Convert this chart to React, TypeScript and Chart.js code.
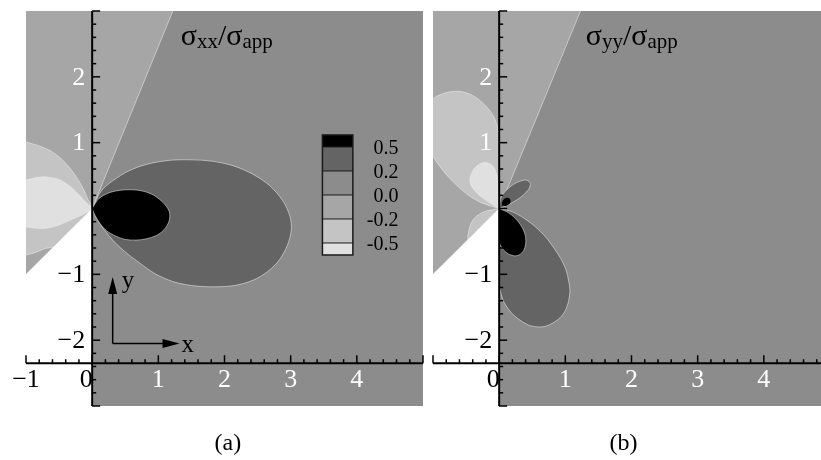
import React, { useEffect, useRef } from "react";
import { Chart, registerables } from "chart.js";

Chart.register(...registerables);

type Pt = [number, number];

// contour levels (key) and their grey shades, darkest = highest
const levelLabels = ["0.5", "0.2", "0.0", "-0.2", "-0.5"];
const shades = ["#000000", "#646464", "#8c8c8c", "#a6a6a6", "#c4c4c4", "#e0e0e0"];

// axis tick labels
const xTicksA = [-1, 0, 1, 2, 3, 4];
const xTicksB = [0, 1, 2, 3, 4];
const yTicks = [2, 1, -1, -2];

// common regions: whole field and the notch (no material)
const frame: Pt[] = [[-1.1, -3.1], [5.1, -3.1], [5.1, 3.1], [-1.1, 3.1]];
const notch: Pt[] = [[-1.1, -1.1], [0, 0], [0, -3.1], [-1.1, -3.1]];

// ---- panel (a): sigma_xx / sigma_app ----
const sxxNegative: Pt[] = [[-1.1, 3.1], [1.26, 3.1], [0, 0], [-1.1, -1.1]];
const sxxMinus02: Pt[] = [
  [-1.1, 1.04], [-1, 1.01], [-0.8, 0.95], [-0.62, 0.87], [-0.46, 0.75], [-0.34, 0.62],
  [-0.22, 0.45], [-0.14, 0.31], [-0.06, 0.13], [0, 0], [-0.2, -0.2], [-0.4, -0.4],
  [-0.58, -0.58], [-0.72, -0.61], [-0.86, -0.67], [-1.1, -0.73],
];
const sxxMinus05: Pt[] = [
  [-1.1, 0.42], [-1, 0.43], [-0.85, 0.47], [-0.69, 0.48], [-0.5, 0.44], [-0.34, 0.34],
  [-0.2, 0.21], [-0.1, 0.1], [0, 0], [-0.1, -0.07], [-0.22, -0.13], [-0.34, -0.18],
  [-0.5, -0.25], [-0.69, -0.3], [-0.85, -0.3], [-1, -0.28], [-1.1, -0.27],
];
const sxxPlus02: Pt[] = [
  [0, 0], [0.14, 0.27], [0.31, 0.42], [0.55, 0.57], [0.82, 0.67], [1.15, 0.73], [1.47, 0.74],
  [1.8, 0.72], [2.13, 0.65], [2.43, 0.52], [2.68, 0.35], [2.88, 0.12], [2.99, -0.12],
  [3.01, -0.33], [2.95, -0.56], [2.83, -0.78], [2.65, -0.96], [2.43, -1.09], [2.15, -1.17],
  [1.82, -1.19], [1.5, -1.17], [1.22, -1.11], [0.95, -0.99], [0.72, -0.83], [0.5, -0.66],
  [0.31, -0.48], [0.11, -0.22], [0, 0],
];
const sxxPlus05: Pt[] = [
  [0, 0], [0.1, 0.15], [0.26, 0.24], [0.45, 0.28], [0.67, 0.28], [0.85, 0.24], [0.98, 0.17],
  [1.1, 0.06], [1.17, -0.06], [1.16, -0.2], [1.08, -0.33], [0.97, -0.41], [0.82, -0.46],
  [0.67, -0.48], [0.5, -0.47], [0.36, -0.42], [0.22, -0.34], [0.12, -0.23], [0.04, -0.1], [0, 0],
];

// ---- panel (b): sigma_yy / sigma_app ----
const syyNegative: Pt[] = [[-1.1, 3.1], [1.27, 3.1], [0, 0], [-1.1, -1.1]];
const syyMinus02Upper: Pt[] = [
  [0, 0], [-0.25, 0.08], [-0.42, 0.17], [-0.56, 0.28], [-0.72, 0.43], [-0.86, 0.59],
  [-1.0, 0.79], [-1.1, 1.0], [-1.1, 1.5], [-0.98, 1.68], [-0.8, 1.76], [-0.61, 1.78],
  [-0.45, 1.74], [-0.3, 1.65], [-0.16, 1.51], [-0.07, 1.37], [-0.02, 1.2], [0, 0.9], [0, 0.4], [0, 0],
];
const syyMinus02Lower: Pt[] = [
  [0, 0], [-0.2, -0.04], [-0.32, -0.1], [-0.4, -0.18], [-0.45, -0.3], [-0.47, -0.47],
  [-0.3, -0.3], [-0.15, -0.15], [0, 0],
];
const syyMinus05: Pt[] = [
  [0, 0], [-0.13, 0.08], [-0.26, 0.17], [-0.36, 0.26], [-0.43, 0.36], [-0.44, 0.46],
  [-0.4, 0.57], [-0.32, 0.66], [-0.23, 0.7], [-0.14, 0.68], [-0.08, 0.62], [-0.04, 0.53],
  [-0.02, 0.4], [-0.01, 0.2], [0, 0],
];
const syyPlus02Upper: Pt[] = [
  [0, 0], [0.03, 0.17], [0.11, 0.28], [0.22, 0.37], [0.33, 0.42], [0.42, 0.43], [0.47, 0.38],
  [0.45, 0.3], [0.35, 0.19], [0.2, 0.09], [0.08, 0.03], [0, 0],
];
const syyPlus05Upper: Pt[] = [
  [0.04, 0.04], [0.05, 0.11], [0.1, 0.16], [0.16, 0.15], [0.17, 0.09], [0.11, 0.04], [0.04, 0.04],
];
const syyPlus02Lower: Pt[] = [
  [0, 0], [0.2, -0.05], [0.38, -0.15], [0.55, -0.28], [0.7, -0.43], [0.82, -0.59],
  [0.93, -0.76], [1.01, -0.93], [1.05, -1.1], [1.07, -1.25], [1.05, -1.4], [1.0, -1.55],
  [0.92, -1.66], [0.81, -1.74], [0.7, -1.79], [0.6, -1.8], [0.47, -1.78], [0.35, -1.72],
  [0.23, -1.63], [0.14, -1.53], [0.07, -1.42], [0.03, -1.3], [0, -1.15], [0, -0.6], [0, 0],
];
const syyPlus05Lower: Pt[] = [
  [0, 0], [0.15, -0.07], [0.28, -0.19], [0.36, -0.31], [0.4, -0.43], [0.4, -0.54],
  [0.37, -0.64], [0.31, -0.7], [0.24, -0.72], [0.14, -0.69], [0.05, -0.61], [0, -0.5], [0, 0],
];

type Layer = { pts: Pt[]; color: string; edge: boolean; tension: number };

const layersA: Layer[] = [
  { pts: frame, color: shades[2], edge: false, tension: 0 },
  { pts: sxxNegative, color: shades[3], edge: true, tension: 0 },
  { pts: sxxMinus02, color: shades[4], edge: true, tension: 0.3 },
  { pts: sxxMinus05, color: shades[5], edge: true, tension: 0.3 },
  { pts: sxxPlus02, color: shades[1], edge: true, tension: 0.3 },
  { pts: sxxPlus05, color: shades[0], edge: true, tension: 0.3 },
  { pts: notch, color: "#ffffff", edge: false, tension: 0 },
];

const layersB: Layer[] = [
  { pts: frame, color: shades[2], edge: false, tension: 0 },
  { pts: syyNegative, color: shades[3], edge: true, tension: 0 },
  { pts: syyMinus02Upper, color: shades[4], edge: true, tension: 0.3 },
  { pts: syyMinus02Lower, color: shades[4], edge: true, tension: 0.3 },
  { pts: syyMinus05, color: shades[5], edge: true, tension: 0.3 },
  { pts: syyPlus02Upper, color: shades[1], edge: true, tension: 0.3 },
  { pts: syyPlus05Upper, color: shades[0], edge: false, tension: 0.3 },
  { pts: syyPlus02Lower, color: shades[1], edge: true, tension: 0.3 },
  { pts: syyPlus05Lower, color: shades[0], edge: true, tension: 0.3 },
  { pts: notch, color: "#ffffff", edge: false, tension: 0 },
];

const FONT = '"Liberation Serif", "Times New Roman", serif';

type PanelCfg = {
  layers: Layer[];
  xMax: number;
  xTicks: number[];
  xAxisAt: number;
  title: { t: string; sub: boolean }[];
  titleAt: Pt;
  label: string;
  labelX: number;
  showKey: boolean;
  showInset: boolean;
  width: number;
  padding: { left: number; right: number; top: number; bottom: number };
};

const panelA: PanelCfg = {
  layers: layersA,
  xMax: 5,
  xTicks: xTicksA,
  xAxisAt: -2.35,
  title: [
    { t: "σ", sub: false }, { t: "xx", sub: true }, { t: "/", sub: false },
    { t: "σ", sub: false }, { t: "app", sub: true },
  ],
  titleAt: [1.34, 2.48],
  label: "(a)",
  labelX: 2.05,
  showKey: true,
  showInset: true,
  width: 428,
  padding: { left: 26, right: 5, top: 11, bottom: 54 },
};

const panelB: PanelCfg = {
  layers: layersB,
  xMax: 4.864,
  xTicks: xTicksB,
  xAxisAt: -2.35,
  title: [
    { t: "σ", sub: false }, { t: "yy", sub: true }, { t: "/", sub: false },
    { t: "σ", sub: false }, { t: "app", sub: true },
  ],
  titleAt: [1.31, 2.48],
  label: "(b)",
  labelX: 1.88,
  showKey: false,
  showInset: false,
  width: 393,
  padding: { left: 5, right: 0, top: 11, bottom: 54 },
};

function makeOverlay(cfg: PanelCfg) {
  return {
    id: "overlay",
    afterDraw(chart: any) {
      const ctx: CanvasRenderingContext2D = chart.ctx;
      const xs = chart.scales.x;
      const ys = chart.scales.y;
      const px = (v: number) => xs.getPixelForValue(v);
      const py = (v: number) => ys.getPixelForValue(v);
      ctx.save();

      // y axis at x = 0
      const x0 = px(0);
      ctx.strokeStyle = "#000";
      ctx.lineWidth = 2;
      ctx.beginPath();
      ctx.moveTo(x0, py(3));
      ctx.lineTo(x0, py(-3));
      ctx.stroke();
      ctx.lineWidth = 1.5;
      for (let i = -15; i <= 15; i++) {
        const yy = py(i / 5);
        const len = i % 5 === 0 ? 8 : 4;
        ctx.beginPath();
        ctx.moveTo(x0, yy);
        ctx.lineTo(x0 + len, yy);
        ctx.stroke();
      }

      // x axis
      const ya = py(cfg.xAxisAt);
      ctx.lineWidth = 2;
      ctx.beginPath();
      ctx.moveTo(px(-1), ya);
      ctx.lineTo(px(cfg.xMax), ya);
      ctx.stroke();
      ctx.lineWidth = 1.5;
      for (let i = -5; i <= 25; i++) {
        const v = i / 5;
        if (v > cfg.xMax + 1e-6) break;
        const xx = px(v);
        const len = i % 5 === 0 ? 8 : 4;
        ctx.beginPath();
        ctx.moveTo(xx, ya);
        ctx.lineTo(xx, ya - len);
        ctx.stroke();
      }

      // tick labels
      ctx.font = `26px ${FONT}`;
      ctx.textBaseline = "middle";
      ctx.textAlign = "center";
      cfg.xTicks.forEach((v) => {
        const txt = v < 0 ? "\u2212" + Math.abs(v) : String(v);
        ctx.fillStyle = v > 0 ? "#ffffff" : "#000000";
        const xx = v === 0 ? px(0) - 6 : px(v);
        ctx.fillText(txt, xx, ya + 17);
      });
      ctx.textAlign = "right";
      yTicks.forEach((v) => {
        const txt = v < 0 ? "\u2212" + Math.abs(v) : String(v);
        ctx.fillStyle = v > 0 ? "#ffffff" : "#000000";
        ctx.fillText(txt, x0 - 7, py(v) + 1);
      });

      // title with subscripts
      ctx.textAlign = "left";
      ctx.textBaseline = "alphabetic";
      ctx.fillStyle = "#000";
      let cx = px(cfg.titleAt[0]);
      const by = py(cfg.titleAt[1]);
      cfg.title.forEach((p) => {
        ctx.font = `${p.sub ? 21 : 30}px ${FONT}`;
        ctx.fillText(p.t, cx, by + (p.sub ? 3 : 0));
        cx += ctx.measureText(p.t).width;
      });

      // colour key
      if (cfg.showKey) {
        const kl = px(3.48);
        const kr = px(3.94);
        const kt = py(1.117);
        const kb = py(-0.706);
        const unit = (kb - kt) / 5;
        const edges = [0, 0.5, 1.5, 2.5, 3.5, 4.5, 5].map((f) => kt + f * unit);
        for (let k = 0; k < 6; k++) {
          ctx.fillStyle = shades[k];
          ctx.fillRect(kl, edges[k], kr - kl, edges[k + 1] - edges[k]);
        }
        ctx.strokeStyle = "#1a1a1a";
        ctx.lineWidth = 1.5;
        ctx.strokeRect(kl, kt, kr - kl, kb - kt);
        ctx.lineWidth = 1;
        for (let k = 1; k < 6; k++) {
          ctx.beginPath();
          ctx.moveTo(kl, edges[k]);
          ctx.lineTo(kr, edges[k]);
          ctx.stroke();
        }
        ctx.fillStyle = "#000";
        ctx.font = `20px ${FONT}`;
        ctx.textAlign = "right";
        ctx.textBaseline = "middle";
        levelLabels.forEach((lab, k) => {
          ctx.fillText(lab, px(4.63), edges[k + 1] + 2);
        });
      }

      // inset coordinate arrows
      if (cfg.showInset) {
        const ox = px(0.31);
        const oy = py(-2.05);
        const ty = py(-1.04);
        const tx = px(1.32);
        ctx.strokeStyle = "#000";
        ctx.fillStyle = "#000";
        ctx.lineWidth = 1.5;
        ctx.beginPath();
        ctx.moveTo(ox, oy);
        ctx.lineTo(ox, ty + 12);
        ctx.moveTo(ox, oy);
        ctx.lineTo(tx - 12, oy);
        ctx.stroke();
        ctx.beginPath();
        ctx.moveTo(ox, ty);
        ctx.lineTo(ox - 4.5, ty + 17);
        ctx.lineTo(ox + 4.5, ty + 17);
        ctx.closePath();
        ctx.fill();
        ctx.beginPath();
        ctx.moveTo(tx, oy);
        ctx.lineTo(tx - 17, oy - 4.5);
        ctx.lineTo(tx - 17, oy + 4.5);
        ctx.closePath();
        ctx.fill();
        ctx.font = `25px ${FONT}`;
        ctx.textAlign = "left";
        ctx.textBaseline = "alphabetic";
        ctx.fillText("y", ox + 9, ty + 11);
        ctx.fillText("x", tx + 2, oy + 9);
      }

      // panel label
      ctx.fillStyle = "#000";
      ctx.font = `24px ${FONT}`;
      ctx.textAlign = "center";
      ctx.textBaseline = "middle";
      ctx.fillText(cfg.label, px(cfg.labelX), 444);

      ctx.restore();
    },
  };
}

function Panel({ cfg, left }: { cfg: PanelCfg; left: number }) {
  const ref = useRef<HTMLCanvasElement | null>(null);
  useEffect(() => {
    if (!ref.current) return;
    const n = cfg.layers.length;
    const chart = new Chart(ref.current, {
      type: "scatter",
      data: {
        datasets: cfg.layers.map((L, i) => ({
          data: L.pts.map(([x, y]) => ({ x, y })),
          showLine: true,
          fill: "shape",
          backgroundColor: L.color,
          borderColor: L.edge ? "rgba(236,236,236,0.55)" : "rgba(0,0,0,0)",
          borderWidth: L.edge ? 1 : 0,
          pointRadius: 0,
          tension: L.tension,
          order: n - i,
        })),
      } as any,
      options: {
        responsive: false,
        animation: false,
        devicePixelRatio: 1,
        events: [],
        layout: { padding: cfg.padding },
        scales: {
          x: { type: "linear", min: -1, max: cfg.xMax, display: false },
          y: { type: "linear", min: -3, max: 3, display: false },
        },
        plugins: { legend: { display: false }, tooltip: { enabled: false } },
      } as any,
      plugins: [makeOverlay(cfg)],
    });
    return () => chart.destroy();
  }, [cfg]);
  return (
    <canvas
      ref={ref}
      width={cfg.width}
      height={460}
      style={{ position: "absolute", left, top: 0, width: cfg.width, height: 460 }}
    />
  );
}

export default function App() {
  return (
    <div style={{ position: "absolute", left: 0, top: 0, width: 821, height: 460, background: "#fff", overflow: "hidden" }}>
      <Panel cfg={panelA} left={0} />
      <Panel cfg={panelB} left={428} />
    </div>
  );
}
